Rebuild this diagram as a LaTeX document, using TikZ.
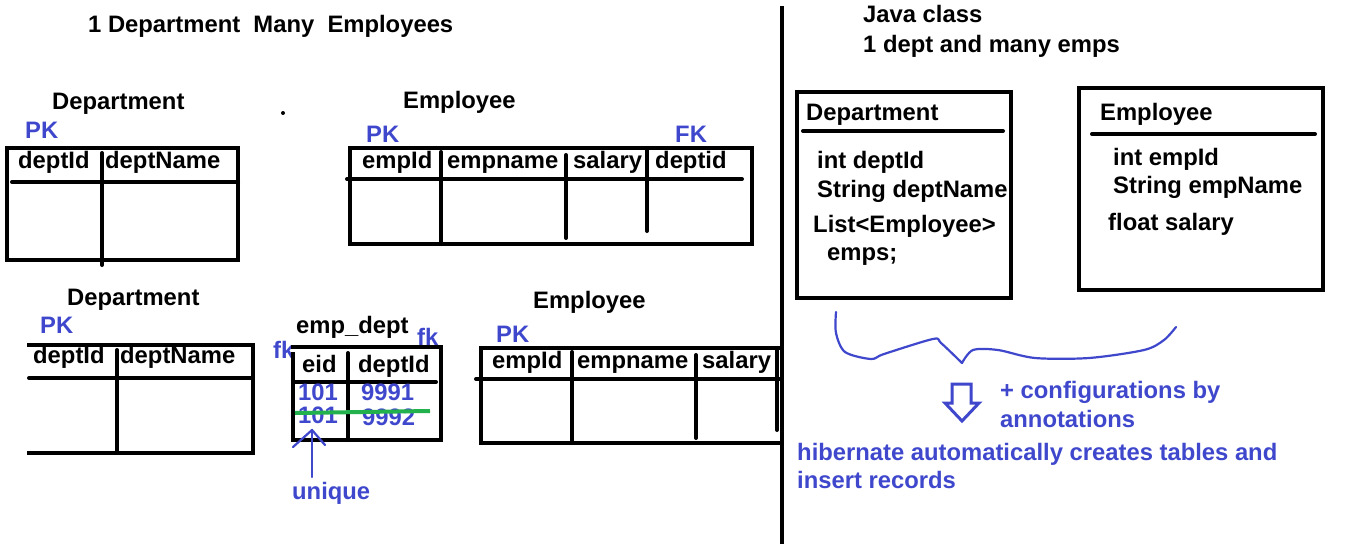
\documentclass[tikz,border=0pt]{standalone}
\usepackage{fontspec}
\setmainfont{Liberation Sans}
\definecolor{ink}{HTML}{3F48CC}
\definecolor{strike}{HTML}{22B14C}
\begin{document}
\begin{tikzpicture}[x=1pt,y=-1pt,
  txt/.style={anchor=base west, inner sep=0pt, font=\fontsize{23.8}{28}\selectfont\bfseries},
  note/.style={txt, text=ink},
  rule/.style={line width=4pt, line cap=rect},
  thinrule/.style={line width=4pt, line cap=round},
  pen/.style={draw=ink, line width=2.2pt, line cap=round, line join=round}]
\useasboundingbox[fill=white] (0,0) rectangle (1349,544);

% ---------- heading ----------
\node[txt] (title) at (88,32) {1 Department\ \ Many\ \ Employees};
\fill (283,113) circle (2pt);

% ---------- divider ----------
\coordinate (divtop) at (782,6);
\coordinate (divbot) at (782,544);
\draw[line width=4pt] (divtop) -- (divbot);

% ---------- Department table (one-to-many) ----------
\node[txt] (d1title) at (52,109) {Department};
\node[note] (d1pk) at (25,138) {PK};
\draw[rule] (7,148) rectangle (238,260);
\draw[thinrule] (12,182) -- (238,182);
\draw[thinrule] (102,153) -- (102,265);
\node[txt] (d1c1) at (18,168) {deptId};
\node[txt] (d1c2) at (105,168) {deptName};

% ---------- Employee table (one-to-many) ----------
\node[txt] (e1title) at (403,108) {Employee};
\node[note] (e1pk) at (366,142) {PK};
\node[note] (e1fk) at (675,142) {FK};
\draw[rule] (350,148) rectangle (752,244);
\draw[thinrule] (347,179) -- (742,179);
\draw[thinrule] (441,152) -- (441,244);
\draw[thinrule] (566,155) -- (566,238);
\draw[thinrule] (647,150) -- (647,231);
\node[txt] (e1c1) at (362,168) {empId};
\node[txt] (e1c2) at (447,168) {empname};
\node[txt] (e1c3) at (573,168) {salary};
\node[txt] (e1c4) at (655,168) {deptid};

% ---------- Department table (join table variant) ----------
\node[txt] (d2title) at (67,305) {Department};
\node[note] (d2pk) at (40,333) {PK};
\draw[rule] (29,345) -- (253,345) -- (253,453) -- (29,453);
\draw[thinrule] (29,378) -- (253,378);
\draw[thinrule] (117,350) -- (117,453);
\node[txt] (d2c1) at (33,363) {deptId};
\node[txt] (d2c2) at (120,363) {deptName};

% ---------- emp_dept join table ----------
\node[txt] (jtitle) at (296,333) {emp\_dept};
\node[note] (jfk1) at (273,358) {fk};
\node[note] (jfk2) at (417,345) {fk};
\draw[rule] (293,347) -- (441,347) -- (441,440) -- (293,440) -- (293,354);
\draw[thinrule] (293,382) -- (436,382);
\draw[thinrule] (348,353) -- (348,440);
\node[txt] (jc1) at (302,372) {eid};
\node[txt] (jc2) at (358,372) {deptId};
\node[note] (r1a) at (298,400) {101};
\node[note] (r1b) at (361,400) {9991};
\node[note] (r2a) at (298,423) {101};
\node[note] (r2b) at (362,425) {9992};
\draw[strike, line width=4pt] (295,413) -- (430,411);
\coordinate (utail) at (312,477);
\coordinate (uhead) at (312,430);
\draw[pen] (utail) -- (uhead);
\draw[pen] (293,447) -- (uhead) -- (325,445);
\node[note] (uniq) at (292,499) {unique};

% ---------- Employee table (join table variant) ----------
\node[txt] (e2title) at (533,308) {Employee};
\node[note] (e2pk) at (496,342) {PK};
\draw[rule] (782,348) -- (481,348) -- (481,443) -- (782,443);
\draw[thinrule] (476,379) -- (780,379);
\draw[thinrule] (572,352) -- (572,443);
\draw[thinrule] (696,355) -- (696,438);
\draw[thinrule] (777,350) -- (777,430);
\node[txt] (e2c1) at (492,368) {empId};
\node[txt] (e2c2) at (577,368) {empname};
\node[txt] (e2c3) at (702,368) {salary};

% ---------- Java classes ----------
\node[txt] (jv1) at (863,22) {Java class};
\node[txt] (jv2) at (863,52) {1 dept and many emps};

\draw[rule] (797,92) rectangle (1011,298);
\draw[thinrule] (803,131) -- (1003,131);
\node[txt] (cdname) at (806,120) {Department};
\node[txt] (cd1) at (817,168) {int deptId};
\node[txt] (cd2) at (817,197) {String deptName};
\node[txt] (cd3) at (813,232) {List<Employee>};
\node[txt] (cd4) at (827,260) {emps;};

\draw[rule] (1079,88) rectangle (1323,290);
\draw[thinrule] (1092,134) -- (1315,134);
\node[txt] (cename) at (1100,120) {Employee};
\node[txt] (ce1) at (1113,165) {int empId};
\node[txt] (ce2) at (1113,193) {String empName};
\node[txt] (ce3) at (1108,230) {float salary};

% ---------- brace gathering both classes ----------
\draw[pen] plot[smooth, tension=0.5] coordinates {(836,312) (836,333) (845,352) (871,359) (884,354) (933,339) (941,343) (962,363)};
\draw[pen] plot[smooth, tension=0.5] coordinates {(962,363) (973,350) (998,350) (1035,358) (1089,358) (1144,350) (1164,340) (1176,327)};

% ---------- hollow arrow and notes ----------
\draw[draw=ink, line width=3pt, line join=miter]
  (952,384) -- (971,384) -- (971,403) -- (979,403) -- (962,421) -- (945,403) -- (952,403) -- cycle;
\node[note] (cfg1) at (1000,398) {+ configurations by};
\node[note] (cfg2) at (1000,427) {annotations};
\node[note] (hib1) at (797,460) {hibernate automatically creates tables and};
\node[note] (hib2) at (797,488) {insert records};
\end{tikzpicture}
\end{document}
